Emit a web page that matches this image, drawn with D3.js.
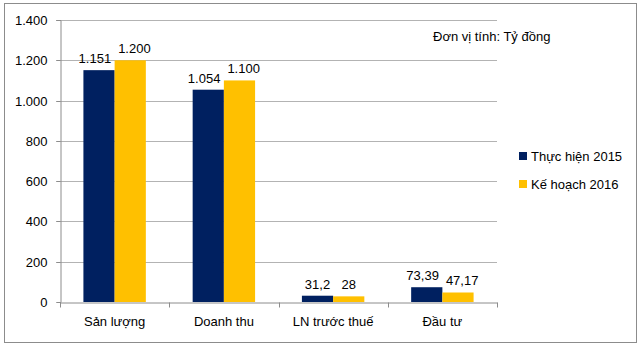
<!DOCTYPE html>
<html>
<head>
<meta charset="utf-8">
<script src="https://cdn.jsdelivr.net/npm/d3@7"></script>
<style>
  html, body { margin: 0; padding: 0; background: #fff; }
  svg text { font-family: "Liberation Sans", Arial, sans-serif; fill: #000; }
</style>
</head>
<body>
<svg id="chart" width="640" height="349"></svg>
<script>
// Chart data
const categories = ["Sản lượng", "Doanh thu", "LN trước thuế", "Đầu tư"];
const seriesNames = ["Thực hiện 2015", "Kế hoạch 2016"];
const thucHien2015 = [1151, 1054, 31.2, 73.39];
const keHoach2016 = [1200, 1100, 28, 47.17];
const valueLabels2015 = ["1.151", "1.054", "31,2", "73,39"];
const valueLabels2016 = ["1.200", "1.100", "28", "47,17"];
const yTicks = [0, 200, 400, 600, 800, 1000, 1200, 1400];
const yTickLabels = ["0", "200", "400", "600", "800", "1.000", "1.200", "1.400"];
const seriesColors = ["#002060", "#FFC000"];
const unitNote = "Đơn vị tính: Tỷ đồng";

const svg = d3.select("#chart");
const FONT = "Liberation Sans, Arial, sans-serif";

// Outer frame
svg.append("rect")
  .attr("x", 4.5).attr("y", 3.5)
  .attr("width", 632).attr("height", 339)
  .attr("fill", "#fff").attr("stroke", "#8c8c8c").attr("stroke-width", 1);

const plot = { left: 60, right: 497, top: 20, bottom: 302 };

const x = d3.scaleBand()
  .domain(categories)
  .range([plot.left, plot.right]);

const y = d3.scaleLinear()
  .domain([0, 1400])
  .range([plot.bottom, plot.top]);

// Gridlines
svg.append("g")
  .selectAll("line")
  .data(yTicks.filter(d => d > 0))
  .join("line")
  .attr("x1", plot.left - 4).attr("x2", plot.right)
  .attr("y1", d => Math.round(y(d)) + 0.5)
  .attr("y2", d => Math.round(y(d)) + 0.5)
  .attr("stroke", "#b3b3b3").attr("stroke-width", 1);

// Y axis
const yAxis = d3.axisLeft(y)
  .tickValues(yTicks)
  .tickFormat((d, i) => yTickLabels[i])
  .tickSize(4)
  .tickPadding(9);
const yg = svg.append("g")
  .attr("transform", `translate(${plot.left + 0.5},0)`)
  .call(yAxis);
yg.select(".domain").attr("stroke", "#8c8c8c");
yg.selectAll(".tick line").attr("stroke", "#8c8c8c");
yg.selectAll(".tick").attr("transform", d => `translate(0,${Math.round(y(d)) + 0.5})`);
yg.selectAll("text").attr("font-size", 13).attr("font-family", FONT).attr("fill", "#000");

// Bars: two series per category, Excel-style 150% gap width
const inner = d3.scaleBand()
  .domain([0, 1])
  .range([0, x.bandwidth()])
  .paddingOuter(0.75)
  .paddingInner(0);

const seriesData = [thucHien2015, keHoach2016];
const seriesLabels = [valueLabels2015, valueLabels2016];
const labelNodes = [[], []];

seriesData.forEach((vals, s) => {
  const g = svg.append("g");
  g.selectAll("rect")
    .data(vals)
    .join("rect")
    .attr("x", (d, i) => x(categories[i]) + inner(s))
    .attr("y", d => y(d))
    .attr("width", inner.bandwidth())
    .attr("height", d => y(0) - y(d))
    .attr("fill", seriesColors[s]);
  g.selectAll("text")
    .data(vals)
    .join("text")
    .attr("x", (d, i) => x(categories[i]) + inner(s) + inner.bandwidth() / 2)
    .attr("y", d => y(d) - 7)
    .attr("text-anchor", "middle")
    .attr("font-size", 13)
    .text((d, i) => seriesLabels[s][i])
    .each(function (d, i) { labelNodes[s][i] = this; });
});

// Push apart value labels that would touch within a category
const minGap = 7;
categories.forEach((c, i) => {
  const a = labelNodes[0][i], b = labelNodes[1][i];
  const ba = a.getBBox(), bb = b.getBBox();
  const deficit = (ba.x + ba.width + minGap) - bb.x;
  if (deficit > 0) {
    a.setAttribute("x", +a.getAttribute("x") - deficit / 2);
    b.setAttribute("x", +b.getAttribute("x") + deficit / 2);
  }
});

// X axis
const xAxis = d3.axisBottom(x).tickSize(0).tickPadding(14);
const xg = svg.append("g")
  .attr("transform", `translate(0,${plot.bottom + 0.5})`)
  .call(xAxis);
xg.select(".domain").attr("stroke", "#8c8c8c");
xg.selectAll("text").attr("font-size", 13).attr("font-family", FONT).attr("fill", "#000");
// Category separator ticks
const bounds = categories.map(c => x(c)).concat([x(categories[categories.length - 1]) + x.bandwidth()]);
xg.selectAll(".sep")
  .data(bounds)
  .join("line")
  .attr("class", "sep")
  .attr("x1", d => Math.round(d) + 0.5).attr("x2", d => Math.round(d) + 0.5)
  .attr("y1", 0).attr("y2", 5)
  .attr("stroke", "#8c8c8c");

// Unit note
svg.append("text")
  .attr("x", 433).attr("y", 41)
  .attr("font-size", 13)
  .text(unitNote);

// Legend
const legend = svg.append("g").attr("transform", "translate(519,152)");
seriesNames.forEach((name, i) => {
  const row = legend.append("g").attr("transform", `translate(0,${i * 28})`);
  row.append("rect").attr("x", 0).attr("y", 0).attr("width", 8).attr("height", 8).attr("fill", seriesColors[i]);
  row.append("text").attr("x", 12).attr("y", 9).attr("font-size", 13).text(name);
});
</script>
</body>
</html>
